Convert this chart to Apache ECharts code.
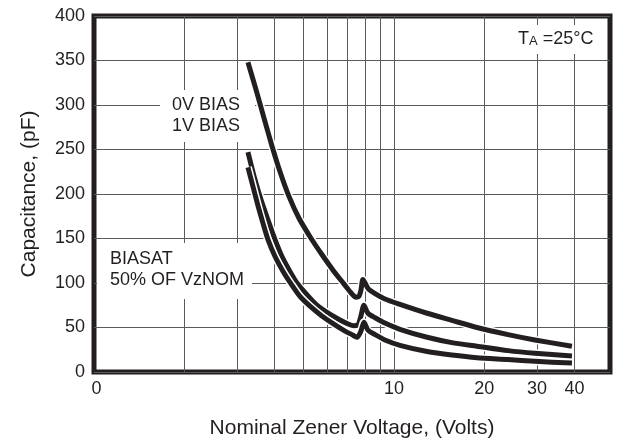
<!DOCTYPE html>
<html><head><meta charset="utf-8">
<script src="https://cdn.jsdelivr.net/npm/echarts@6/dist/echarts.min.js"></script>
<style>html,body{margin:0;padding:0;background:#fff}#c{width:618px;height:439px}</style>
</head><body><div id="c"></div>
<script>
// Grid-line and label positions on the log voltage axis
const xGridValues = [2, 3, 4, 5, 6, 7, 8, 9, 10, 20, 30, 40];
const xLabelValues = [1, 10, 20, 30, 40];
const yMin = 0, yMax = 400, yStep = 50;

// Capacitance (pF) vs nominal zener voltage (V)
const bias0V = [[3.26,348],[3.47,317],[3.69,285],[3.92,254],[4.17,225],[4.47,197],[4.82,173],[5.25,152],[5.75,132],[6.31,113],[6.81,99],[7.19,89],[7.47,84],[7.64,85],[7.76,92],[7.88,104],[8.19,94],[8.65,88],[9.33,82],[10.47,76],[12.9,66],[15.6,58],[18.9,50],[24.0,42],[29.5,36],[39.2,29]];
const bias1V = [[3.26,247],[3.41,221],[3.60,194],[3.80,171],[4.01,149],[4.23,130],[4.50,113],[4.75,100],[5.09,88],[5.50,76],[5.98,67],[6.56,59],[7.03,54],[7.36,52],[7.59,53],[7.76,63],[7.94,75],[8.19,66],[8.65,61],[9.33,55],[10.47,48],[12.9,39],[15.6,33],[18.9,29],[24.0,24],[29.5,21],[39.2,18]];
const bias50 = [[3.26,230],[3.39,208],[3.52,187],[3.66,167],[3.80,149],[4.01,130],[4.27,113],[4.54,99],[4.86,85],[5.25,74],[5.75,63],[6.36,53],[6.87,46],[7.24,42],[7.53,39],[7.76,46],[7.94,56],[8.19,47],[8.65,42],[9.33,36],[10.47,30],[12.9,23],[15.6,19],[18.9,16],[24.0,14],[29.5,12],[39.2,10]];

const INK = '#231f20';
const FONT = '"Liberation Sans", Arial, sans-serif';

function curve(data, color, width, z) {
  return { type: 'line', data: data, symbol: 'none', smooth: 0.25, z: z,
    lineStyle: { color: color, width: width, cap: 'butt', join: 'round' }, silent: true };
}

const chart = echarts.init(document.getElementById('c'), null, { renderer: 'canvas' });
chart.setOption({
  animation: false,
  backgroundColor: '#fff',
  grid: { left: 94, right: 8, top: 16, bottom: 67, show: true, borderColor: INK, borderWidth: 5,
    containLabel: false, outerBoundsMode: 'none' },
  xAxis: {
    type: 'log', logBase: 10, min: 1, max: 52.5,
    axisLine: { show: false },
    axisTick: { show: false, customValues: xGridValues },
    splitLine: { show: true, lineStyle: { color: '#5a5a5a', width: 1 } },
    axisLabel: { customValues: xLabelValues, color: INK, fontSize: 18, fontFamily: FONT, margin: 8,
      formatter: function (v) { const r = Math.round(v); return r === 1 ? ' 0' : String(r); } },
    name: 'Nominal Zener Voltage, (Volts)', nameLocation: 'middle', nameGap: 46,
    nameTextStyle: { color: INK, fontSize: 21, fontFamily: FONT }
  },
  yAxis: {
    type: 'value', min: yMin, max: yMax, interval: yStep,
    axisLine: { show: false }, axisTick: { show: false },
    splitLine: { show: true, lineStyle: { color: '#5a5a5a', width: 1 } },
    axisLabel: { color: INK, fontSize: 18, fontFamily: FONT, margin: 9 },
    name: 'Capacitance, (pF)', nameLocation: 'middle', nameGap: 54,
    nameTextStyle: { color: INK, fontSize: 21, fontFamily: FONT }
  },
  graphic: [
    { type: 'text', x: 160, y: 90, z: 1, silent: true,
      style: { text: '0V BIAS\n1V BIAS', fill: INK, fontSize: 18, fontFamily: FONT, lineHeight: 21,
        backgroundColor: '#fff', padding: [5, 15, 5, 12] } },
    { type: 'text', x: 97, y: 243, z: 1, silent: true,
      style: { text: 'BIASAT\n50% OF VzNOM', fill: INK, fontSize: 18, fontFamily: FONT, lineHeight: 21,
        backgroundColor: '#fff', padding: [6, 8, 8, 13] } },
    { type: 'text', x: 512, y: 25, z: 1, silent: true,
      style: { text: '{a|T}{b|A}{a| =25°C}', fill: INK, fontFamily: FONT,
        rich: { a: { fontSize: 18, lineHeight: 21, fontFamily: FONT, fill: INK },
                b: { fontSize: 13, lineHeight: 21, fontFamily: FONT, fill: INK, padding: [3, 0, 0, 0] } },
        backgroundColor: '#fff', padding: [4, 6, 4, 6] } }
  ],
  series: [
    curve(bias0V, '#fff', 8, 2), curve(bias0V, INK, 5, 3),
    curve(bias1V, '#fff', 8, 4), curve(bias1V, INK, 5, 5),
    curve(bias50, '#fff', 8, 6), curve(bias50, INK, 5, 7)
  ]
});
</script>
</body></html>
